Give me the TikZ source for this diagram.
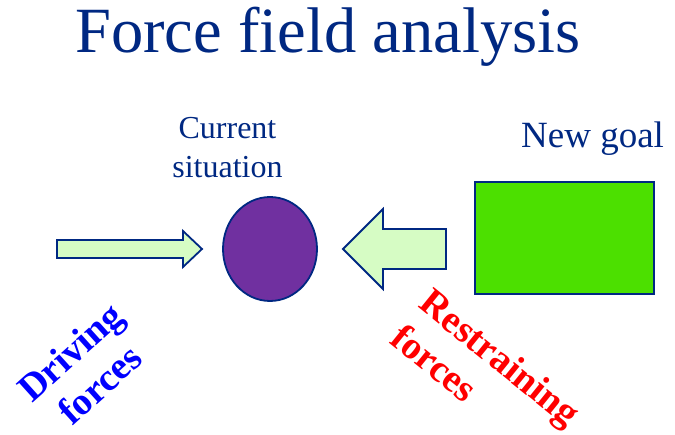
\documentclass[tikz,border=0pt]{standalone}
\usepackage{fontspec}
\setmainfont{Liberation Serif}
\usetikzlibrary{shapes.geometric,positioning}
\definecolor{navy}{RGB}{0,40,130}
\definecolor{paleg}{RGB}{214,252,196}
\definecolor{goalg}{RGB}{76,224,0}
\definecolor{purp}{RGB}{112,48,160}

\begin{document}
\begin{tikzpicture}[x=1pt, y=-1pt,
outl/.style = {draw=navy, line width=1.8pt, line join=miter},
lbl/.style = {inner sep=0pt, text=navy}]
\useasboundingbox (0,0) rectangle (675,435);
% title
\node [lbl, anchor=base west, font=\fontsize{64.5}{76}\selectfont] (title) at (75,53) {Force field analysis};
% current state and goal
\node [outl, ellipse, fill=purp, minimum width=94pt, minimum height=104pt, inner sep=0pt] (cur) at (270,249) {};
\node [lbl, align=center, font=\fontsize{32}{39}\selectfont] (curtxt) at (227.5,148) {Current\\situation};
\node [outl, rectangle, fill=goalg, minimum width=179pt, minimum height=112pt, inner sep=0pt] (goal) at (564.5,238) {};
\node [lbl, anchor=base west, font=\fontsize{37}{44}\selectfont] (goaltxt) at (521,148) {New goal};
% the two forces
\draw [outl, fill=paleg] (57,240) -- (183,240) -- (183,231) -- (202,249) -- (183,267) -- (183,258) -- (57,258) -- cycle;
\draw [outl, fill=paleg] (446,229) -- (383,229) -- (383,209) -- (343,249) -- (383,289) -- (383,269) -- (446,269) -- cycle;
\node [inner sep=0pt, rotate=42, align=center, text=blue, font=\bfseries\fontsize{38.5}{44}\selectfont] (drive) at (85,368) {Driving\\forces};
\node [inner sep=0pt, rotate=-39, align=left, text=red, font=\bfseries\fontsize{38.5}{46}\selectfont] (restr) at (486,375) {Restraining\\forces};
\end{tikzpicture}
\end{document}
